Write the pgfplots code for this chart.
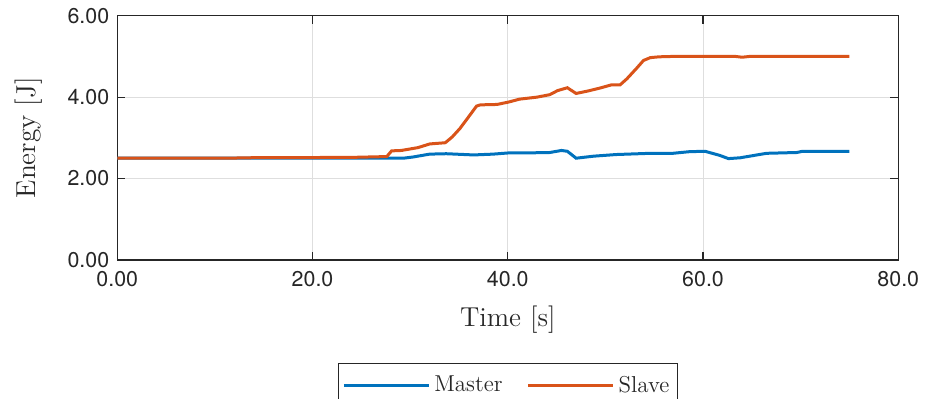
\documentclass[border=0pt]{standalone}
\usepackage{fontspec}
\usepackage{pgfplots}
\pgfplotsset{compat=1.18}
\newfontfamily\heros{TeX Gyre Heros}

\definecolor{mblue}{rgb}{0,0.447,0.741}
\definecolor{morange}{rgb}{0.850,0.325,0.098}
\definecolor{axgray}{rgb}{0.15,0.15,0.15}
\definecolor{gridgray}{rgb}{0.87,0.87,0.87}

\begin{document}
\begin{tikzpicture}
\begin{axis}[
  scale only axis,
  width=390.5pt, height=122.15pt,
  xmin=0, xmax=80, ymin=0, ymax=6,
  xtick={0,20,40,60,80},
  xticklabels={0.00,20.0,40.0,60.0,80.0},
  ytick={0,2,4,6},
  yticklabels={0.00,2.00,4.00,6.00},
  tick align=inside,
  major tick length=4pt,
  axis line style={axgray, line width=0.55pt},
  every tick/.style={axgray, line width=0.55pt},
  grid=major,
  major grid style={gridgray, line width=0.5pt},
  tick label style={font=\heros\fontsize{10.7pt}{12pt}\selectfont, color=axgray},
  /pgf/number format/assume math mode=true,
  xticklabel style={yshift=-2pt},
  yticklabel style={xshift=-0.5pt},
  xlabel={Time [s]},
  ylabel={Energy [J]},
  label style={font=\fontsize{13.7pt}{16pt}\selectfont, color=axgray},
  xlabel style={yshift=-3pt},
  ylabel style={yshift=6pt},
  legend columns=2,
  legend style={
    at={(0.5,-0.423)}, anchor=north,
    draw=axgray, line width=0.5pt,
    font=\fontsize{11.5pt}{13pt}\selectfont,
    text=axgray,
    inner xsep=2pt, inner ysep=4pt,
    /tikz/every even column/.append style={column sep=10pt},
  },
  legend image code/.code={\draw[#1] (0pt,0pt) -- (42.5pt,0pt);},
]
\addplot[mblue, line width=1.5pt] coordinates {
  (0,2.50) (28.0,2.50) (29.3,2.50) (30.3,2.53) (32.0,2.60) (33.7,2.61)
  (36.5,2.58) (38.5,2.60) (40.1,2.63) (42.0,2.63) (44.3,2.64) (45.5,2.69)
  (46.1,2.67) (47.0,2.50) (48.8,2.55) (51.1,2.59) (54.6,2.62) (56.9,2.62)
  (58.6,2.66) (60.2,2.67) (61.7,2.57) (62.6,2.49) (63.8,2.51) (66.5,2.62)
  (69.6,2.64) (70.2,2.67) (75.0,2.67)
};
\addlegendentry{Master}
\addplot[morange, line width=1.5pt] coordinates {
  (0,2.50) (12.0,2.50) (12.5,2.51) (24.0,2.52) (27.6,2.54) (28.1,2.68)
  (29.1,2.69) (30.8,2.76) (32.0,2.85) (33.6,2.88) (34.3,3.02) (35.1,3.23)
  (36.0,3.52) (36.8,3.78) (37.2,3.81) (38.9,3.82) (40.1,3.88) (41.2,3.95)
  (43.0,4.00) (44.3,4.06) (45.1,4.16) (46.1,4.23) (47.0,4.09) (48.2,4.15)
  (49.4,4.22) (50.6,4.30) (51.5,4.30) (52.2,4.45) (53.2,4.71) (53.9,4.90)
  (54.6,4.97) (55.5,4.99) (57.0,5.00) (63.3,5.00) (64.0,4.98) (64.8,5.00)
  (75.0,5.00)
};
\addlegendentry{Slave}
\end{axis}
\pgfresetboundingbox
\useasboundingbox (-58.65pt,-69.5pt) rectangle (403.85pt,130pt);
\end{tikzpicture}
\end{document}
